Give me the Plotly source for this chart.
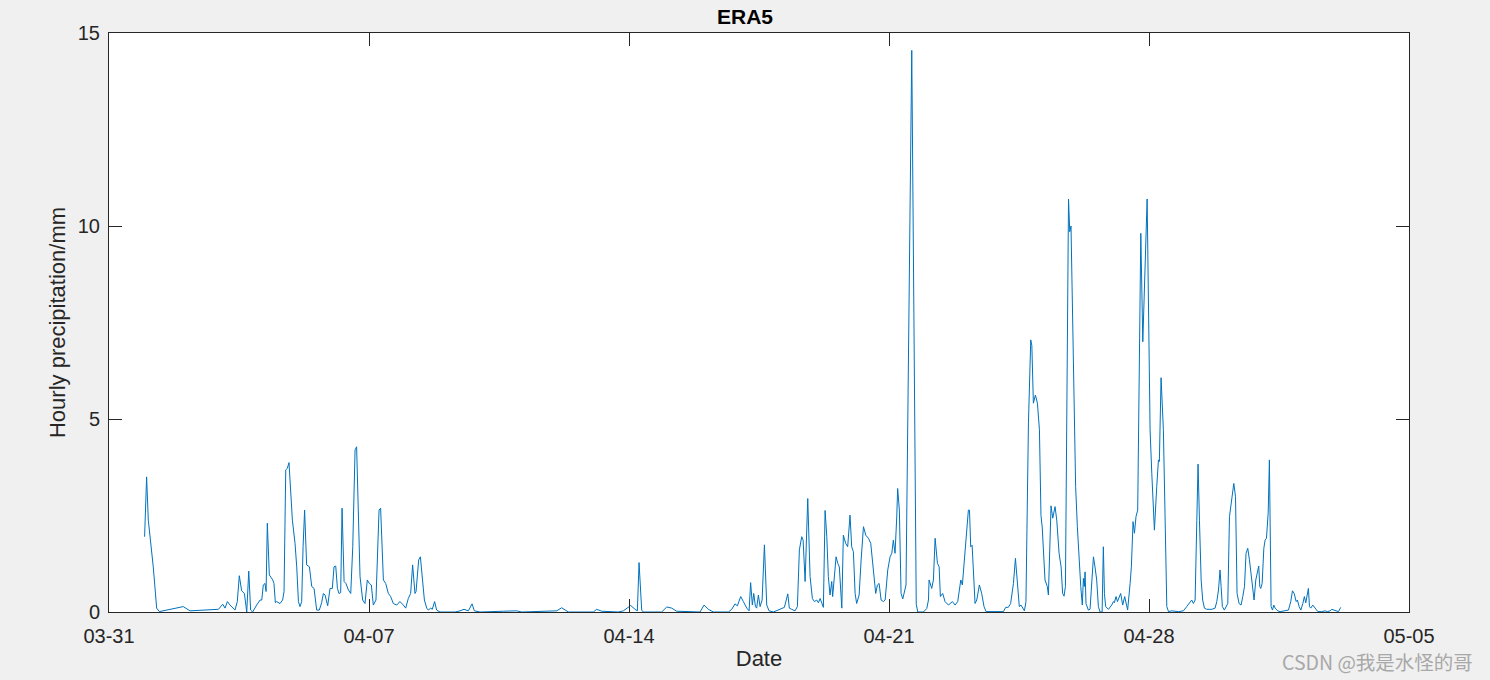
import pandas as pd
import plotly.graph_objects as go

# Hours since 03-31 00:00 and hourly precipitation (mm)
hours = [
    23.0, 24.3, 25.4, 28.6, 30.8, 32.5, 48.0, 52.3, 70.7, 73.5, 75.0, 76.5, 78.2, 81.4, 82.9, 84.2,
    85.7, 87.5, 89.0, 90.3, 91.5, 92.8, 95.4, 97.6, 98.7, 99.7, 100.8, 101.5, 102.3, 103.6, 105.8,
    106.6, 107.5, 108.3, 110.5, 112.2, 113.1, 114.2, 115.2, 116.3, 118.5, 120.2, 121.3, 122.4, 123.4,
    124.5, 125.4, 126.4, 127.7, 129.5, 131.0, 132.5, 134.2, 135.9, 137.4, 138.5, 139.6, 141.3, 142.8,
    144.3, 145.4, 146.5, 147.6, 148.6, 149.7, 150.6, 151.9,
    153.1, 154.7, 156.2, 157.5, 159.0, 160.0, 161.1, 162.2, 163.9, 165.4, 166.9, 168.2, 169.5, 170.8,
    172.5, 173.6, 174.5, 175.5, 177.3, 178.8, 180.5, 182.0, 183.7, 185.9, 188.0, 190.2, 191.7, 193.4,
    194.9, 196.2, 197.7, 198.4, 200.1, 201.2, 202.7, 203.8, 205.3, 206.3, 207.9, 208.9, 210.4, 211.7,
    213.9, 223.6, 226.8, 229.4, 232.2, 234.6, 236.1, 239.7, 254.8, 263.4, 266.7,
    289.3, 292.5, 295.7, 296.8, 313.0, 315.1, 318.4, 329.1, 332.4, 335.6, 337.1, 339.9, 341.4, 342.5,
    344.2, 345.3, 357.1, 360.4, 363.6, 366.8, 381.9, 384.5, 387.3, 390.5, 400.2, 402.4, 404.5, 406.0,
    408.2, 409.9, 412.1, 413.6, 414.6, 415.7, 416.6, 417.7, 418.5, 419.6, 420.7, 422.0, 423.5,
    425.0, 426.5, 429.3, 431.4, 433.6, 436.4, 438.6, 439.6, 441.1, 443.3, 444.8, 446.1, 447.6, 448.5,
    449.8, 451.5, 453.0, 454.5, 455.8, 457.3, 458.4, 459.5, 461.6, 462.7, 463.8, 464.8, 465.9, 467.0,
    467.6, 468.7, 469.8, 470.9, 471.9, 473.5, 474.5, 476.0, 477.3, 478.8, 479.9, 481.0, 482.1, 483.1,
    484.7, 486.0, 487.5, 489.0, 490.7, 492.2, 493.9, 495.4, 496.5, 497.6, 498.9, 500.4, 501.5, 503.2,
    504.7, 505.8, 506.8, 507.9, 509.0, 509.6, 510.7, 511.8, 512.9, 514.0, 515.0, 518.7, 520.4, 521.6,
    522.6, 526.2, 528.4, 529.5, 529.9, 531.6, 532.7, 533.8, 535.3, 536.4, 537.2, 538.7, 540.2, 542.4,
    545.0, 546.7, 548.4, 550.4, 551.4, 552.7, 554.2, 555.3, 556.0,
    556.8, 557.7, 558.5, 559.6, 560.7, 562.4, 563.9, 565.4, 566.7, 577.9, 579.4, 581.1, 582.6, 584.4,
    585.7, 586.9, 588.2, 589.3, 590.4, 591.5, 592.5, 594.1, 595.6, 596.3, 597.3, 598.6, 599.9, 601.2,
    602.2, 603.0, 604.8, 606.3, 607.0, 607.6, 608.7, 609.8, 611.3, 612.4, 613.9, 615.2, 616.2, 617.1,
    618.0, 620.0, 620.8, 621.6, 624.2, 624.6, 625.7, 626.8, 627.9, 628.9, 629.6, 630.2, 630.7, 631.3,
    632.8, 633.9, 635.0, 636.1, 637.1, 638.2, 639.3, 640.4, 641.7, 642.5, 643.2, 644.0, 645.8, 647.9,
    649.0, 649.6, 650.7, 651.6, 653.7, 655.0, 656.3, 657.2, 658.2, 659.8, 660.6, 661.7, 662.6, 663.6,
    664.7, 666.7, 668.0, 670.8, 672.7, 673.8, 675.5, 677.0, 678.1, 678.7, 679.8, 681.3, 682.4, 683.5,
    684.6, 686.7, 691.0, 694.2, 696.4, 697.9, 699.6, 700.7, 701.8, 702.9, 703.7, 704.6, 705.7, 706.7,
    707.8, 709.3, 712.6, 714.7, 715.8, 716.9, 717.9, 718.6, 719.4, 720.7, 721.8, 722.9, 724.0, 725.5,
    726.8, 727.9, 728.9, 730.2, 731.5, 732.6, 733.7, 734.7, 735.8, 736.9, 738.0, 739.1, 739.9, 741.0,
    742.1, 742.9, 743.6, 744.2, 745.1, 746.2, 747.0, 747.9, 749.0, 749.8, 750.9, 751.8, 752.6, 753.5,
    755.2, 756.7, 762.1, 763.6, 764.7, 765.8, 767.1, 767.9, 769.0, 770.1, 771.4, 772.4, 773.3, 774.2,
    775.0, 775.7, 776.5, 777.8, 779.3, 781.1, 783.6, 785.8, 787.3, 789.0, 790.1, 791.6, 793.3, 794.4,
    795.9,
]

precip = [
    1.95, 3.5, 2.38, 1.17, 0.1, 0.01, 0.14, 0.03, 0.07, 0.2, 0.1, 0.27, 0.18, 0.05, 0.27, 0.94,
    0.55, 0.48, 0.0, 1.06, 0.05, 0.0, 0.18, 0.31, 0.31, 0.7, 0.74, 0.53, 2.3, 0.96, 0.83,
    0.74, 0.24, 0.27, 0.22, 0.31, 0.53, 3.68, 3.72, 3.87, 2.38, 1.78, 1.17, 0.27, 0.14,
    0.27, 1.69, 2.64, 1.22, 1.17, 0.66, 0.61, 0.05, 0.05, 0.24, 0.48, 0.44, 0.16, 0.61,
    0.61, 1.17, 1.19, 0.61, 0.48, 0.5, 2.69, 0.79,
    0.74, 0.57, 0.48, 1.69, 4.2, 4.28, 2.82, 0.92, 0.31, 0.22, 0.83, 0.74, 0.7, 0.18,
    0.31, 1.5, 2.64, 2.69, 0.83, 0.74, 0.48, 0.4, 0.22, 0.18, 0.27, 0.18, 0.1, 0.35,
    0.48, 1.22, 0.48, 0.53, 1.35, 1.43, 0.83, 0.31, 0.1, 0.05, 0.1, 0.07, 0.27, 0.05,
    0.0, 0.0, 0.03, 0.07, 0.03, 0.21, 0.03, 0.0, 0.02, 0.03, 0.0,
    0.03, 0.11, 0.03, 0.0, 0.0, 0.07, 0.02, 0.0, 0.03, 0.12, 0.17, 0.07, 0.03, 1.28,
    0.05, 0.0, 0.0, 0.13, 0.1, 0.02, 0.0, 0.18, 0.07, 0.0, 0.0, 0.07, 0.21, 0.16,
    0.4, 0.27, 0.1, 0.03, 0.76, 0.18, 0.48, 0.14, 0.1, 0.44, 0.14, 0.31, 1.74,
    0.18, 0.03, 0.0, 0.03, 0.07, 0.12, 0.47, 0.1, 0.07, 0.03, 0.14, 1.61, 1.95, 1.86,
    0.79, 2.94, 0.92, 0.35, 0.27, 0.31, 0.24, 0.35, 0.12, 2.63, 1.95, 0.92, 0.44, 0.79,
    0.4, 0.83, 1.43, 1.26, 1.17, 0.1, 1.99, 1.78, 1.69, 2.51, 1.69, 1.56, 0.48, 0.22,
    0.44, 1.35, 2.21, 1.99, 1.91, 1.78, 1.09, 0.48, 0.7, 0.74, 0.31, 0.27, 0.31, 1.09,
    1.43, 1.52, 1.86, 1.52, 2.46, 3.2, 2.64, 0.48, 0.34, 0.5, 0.7, 14.55, 4.77, 0.2,
    0.0, 0.0, 0.09, 0.31, 0.83, 0.61, 0.83, 1.91, 1.26, 1.17, 0.4, 0.48, 0.27, 0.18,
    0.27, 0.18, 0.27, 0.83, 0.7, 1.35, 2.04, 2.64, 2.64,
    1.69, 1.73, 1.09, 0.22, 0.31, 0.7, 0.48, 0.14, 0.01, 0.01, 0.12, 0.12, 0.22, 0.74,
    1.39, 0.66, 0.14, 0.18, 0.1, 0.03, 0.27, 4.9, 7.05, 6.9, 5.41, 5.62, 5.41, 4.72,
    2.5, 2.2, 0.83, 0.66, 0.44, 1.34, 2.75, 2.43, 2.73, 2.38, 1.52, 1.17, 0.48, 0.41,
    0.66, 10.7, 9.85, 10.0, 4.72, 3.25, 2.21, 1.35, 0.66, 0.18, 0.87, 0.66, 1.04, 0.22,
    0.05, 0.07, 0.83, 1.43, 1.17, 0.83, 0.14, 0.0, 0.0, 1.69, 0.48, 0.14, 0.07, 0.18,
    0.27, 0.24, 0.4, 0.27, 0.48, 0.18, 0.4, 0.18, 0.05, 0.74, 1.17, 2.34, 2.04, 2.47,
    2.64, 9.81, 7.0, 10.7, 4.72, 3.59, 2.12, 3.25, 3.94, 3.9, 6.07, 4.72, 2.43, 0.14,
    0.01, 0.03, 0.01, 0.03, 0.14, 0.22, 0.31, 0.22, 0.31, 2.38, 3.83, 2.38, 0.83, 0.31,
    0.1, 0.07, 0.07, 0.1, 0.27, 0.57, 1.09, 0.66, 0.14, 0.05, 0.14, 0.22, 2.47, 2.9,
    3.33, 2.99, 0.48, 0.22, 0.18, 0.4, 0.66, 1.52, 1.65, 1.35, 0.92, 0.44, 0.31, 0.83,
    1.09, 1.19, 0.66, 0.61, 0.74, 1.65, 1.86, 1.91, 2.56, 3.94, 0.14, 0.05, 0.18, 0.1,
    0.03, 0.01, 0.05, 0.27, 0.55, 0.48, 0.27, 0.31, 0.14, 0.05, 0.22, 0.4, 0.24, 0.4,
    0.61, 0.14, 0.1, 0.18, 0.1, 0.01, 0.01, 0.03, 0.01, 0.03, 0.07, 0.05, 0.03, 0.01,
    0.12,
]

x_start = "2023-03-31"
x_end = "2023-05-05"
title_text = "ERA5"
x_label = "Date"
y_label = "Hourly precipitation/mm"
watermark = "CSDN @我是水怪的哥"

times = pd.Timestamp(x_start) + pd.to_timedelta(hours, unit="h")

fig = go.Figure()
fig.add_trace(go.Scatter(
    x=times, y=precip, mode="lines",
    line=dict(color="#0072BD", width=1),
    showlegend=False,
))

axis_color = "#262626"
font_family = "Liberation Sans, Arial, Helvetica, sans-serif"
tick_font = dict(family=font_family, size=20, color=axis_color)
label_font = dict(family=font_family, size=22, color=axis_color)

fig.update_layout(
    width=1490, height=680,
    paper_bgcolor="#f0f0f0",
    plot_bgcolor="#ffffff",
    margin=dict(l=109, r=81, t=33, b=68, pad=0),
    title=dict(text="<b>" + title_text + "</b>", x=0.5, xanchor="center",
               y=1 - 17 / 680, yanchor="middle",
               font=dict(family=font_family, size=21, color="#000000")),
    xaxis=dict(
        type="date", range=[x_start, x_end],
        tick0=x_start, dtick=7 * 86400000, tickformat="%m-%d",
        ticks="inside", ticklen=13, tickwidth=1, tickcolor=axis_color,
        showline=True, linecolor=axis_color, linewidth=1, mirror="ticks",
        showgrid=False, zeroline=False,
        tickfont=tick_font, ticklabelstandoff=6,
        title=dict(text=x_label, font=label_font, standoff=4),
    ),
    yaxis=dict(
        range=[0, 15], dtick=5, tick0=0,
        ticks="inside", ticklen=13, tickwidth=1, tickcolor=axis_color,
        showline=True, linecolor=axis_color, linewidth=1, mirror="ticks",
        showgrid=False, zeroline=False,
        tickfont=tick_font, ticklabelstandoff=4,
        title=dict(text=y_label, font=label_font, standoff=6),
    ),
    annotations=[dict(
        text=watermark, xref="paper", yref="paper",
        x=(1475 - 109) / 1300, y=-(661 - 612) / 579, xanchor="right", yanchor="middle",
        showarrow=False,
        font=dict(family="Noto Sans CJK SC, Liberation Sans, sans-serif", size=19.5, color="#a8a8a8"),
    )],
)

fig.write_html(
    "out.html",
    config={"displayModeBar": False},
    post_script="document.body.style.margin='0';document.body.style.background='#f0f0f0';",
)
